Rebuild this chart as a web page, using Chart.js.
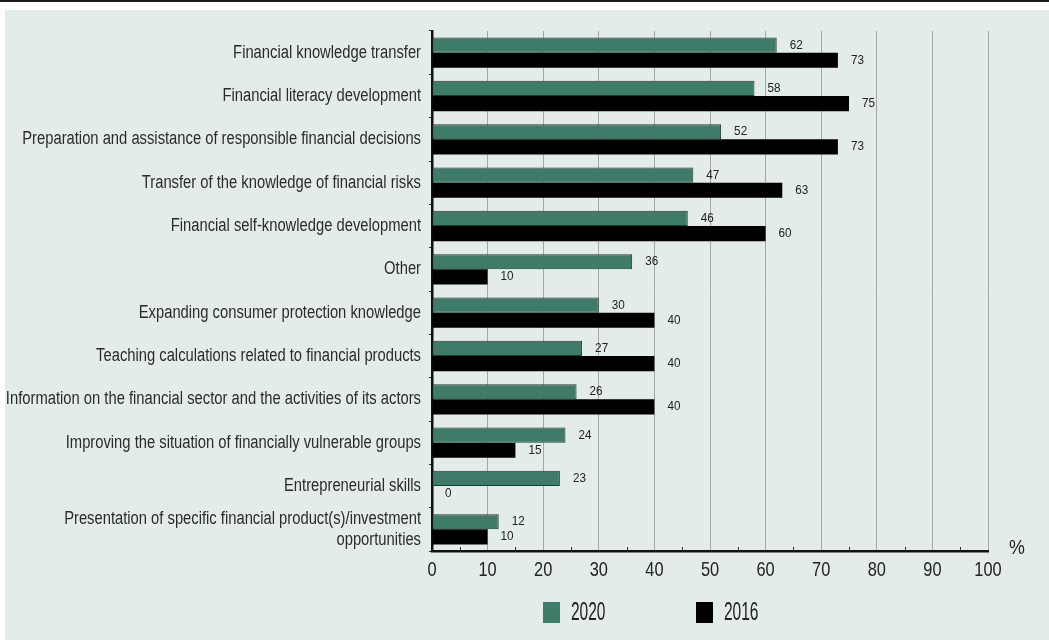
<!DOCTYPE html>
<html>
<head>
<meta charset="utf-8">
<script src="https://cdn.jsdelivr.net/npm/chart.js@4/dist/chart.umd.min.js"></script>
<style>
  html, body { margin: 0; padding: 0; background: #ffffff; }
  #frame { position: relative; width: 1049px; height: 640px; overflow: hidden; }
  #rule { position: absolute; left: 0; top: 0; width: 1049px; height: 2px; background: #1a1a1a; }
  #panel { position: absolute; left: 5px; top: 10px; right: 0; bottom: 0; background: #e4ece9; }
  #chart { position: absolute; left: 0; top: 0; }
</style>
</head>
<body>
<div id="frame">
  <div id="rule"></div>
  <div id="panel"></div>
  <canvas id="chart" width="1049" height="640"></canvas>
</div>
<script>
// Goals of financial education programmes, share of respondents (%)
const categories = [
  "Financial knowledge transfer",
  "Financial literacy development",
  "Preparation and assistance of responsible financial decisions",
  "Transfer of the knowledge of financial risks",
  "Financial self-knowledge development",
  "Other",
  "Expanding consumer protection knowledge",
  "Teaching calculations related to financial products",
  "Information on the financial sector and the activities of its actors",
  "Improving the situation of financially vulnerable groups",
  "Entrepreneurial skills",
  ["Presentation of specific financial product(s)/investment", "opportunities"]
];
const values2020 = [62, 58, 52, 47, 46, 36, 30, 27, 26, 24, 23, 12];
const values2016 = [73, 75, 73, 63, 60, 10, 40, 40, 40, 15, 0, 10];
const seriesNames = ["2020", "2016"];
const axisMin = 0;
const axisMax = 100;
const axisStep = 10;
const axisUnit = "%";

const FACE = "'Liberation Sans', Arial, sans-serif";
const GREEN = "#3e7b68";
const GREEN_EDGE = "#1f3a30";
const INK = "#222222";

// Draws text squeezed horizontally to get a condensed face
function condensedText(ctx, text, x, y, size, squeeze, align, color) {
  ctx.save();
  ctx.translate(x, y);
  ctx.scale(squeeze, 1);
  ctx.font = size + "px " + FACE;
  ctx.fillStyle = color || INK;
  ctx.textAlign = align;
  ctx.textBaseline = "middle";
  ctx.fillText(text, 0, 0);
  ctx.restore();
}

// Category names beside the bar groups and numbers under the value axis
const axisLabels = {
  id: "axisLabels",
  afterDraw(chart) {
    const ctx = chart.ctx;
    const xs = chart.scales.x;
    const ys = chart.scales.y;
    const area = chart.chartArea;
    chart.data.labels.forEach((label, i) => {
      const lines = Array.isArray(label) ? label : [label];
      const yc = ys.getPixelForTick(i);
      const lh = 21;
      lines.forEach((line, k) => {
        const y = yc + (k - (lines.length - 1) / 2) * lh;
        condensedText(ctx, line, area.left - 11, y, 18, 0.82, "right", "#2b2b2b");
      });
    });
    xs.ticks.forEach((t) => {
      condensedText(ctx, String(t.value), xs.getPixelForValue(t.value), area.bottom + 19, 21, 0.78, "center");
    });
    condensedText(ctx, axisUnit, area.right + 29, area.bottom - 3, 21, 0.85, "center");
  }
};

// Value printed just past the end of each bar
const barValueLabels = {
  id: "barValueLabels",
  afterDatasetsDraw(chart) {
    const ctx = chart.ctx;
    const xs = chart.scales.x;
    chart.data.datasets.forEach((ds, i) => {
      const meta = chart.getDatasetMeta(i);
      meta.data.forEach((bar, j) => {
        const v = ds.data[j];
        condensedText(ctx, String(v), xs.getPixelForValue(v) + 13, bar.y, 13, 0.9, "left");
      });
    });
  }
};

// Short inner ticks at the half steps of the value axis
const halfStepTicks = {
  id: "halfStepTicks",
  afterDraw(chart) {
    const ctx = chart.ctx;
    const xs = chart.scales.x;
    const area = chart.chartArea;
    ctx.save();
    ctx.strokeStyle = "#333333";
    ctx.lineWidth = 1;
    for (let v = axisMin + axisStep / 2; v < axisMax; v += axisStep) {
      const px = Math.round(xs.getPixelForValue(v)) + 0.5;
      ctx.beginPath();
      ctx.moveTo(px, area.bottom);
      ctx.lineTo(px, area.bottom - 4);
      ctx.stroke();
    }
    ctx.restore();
  }
};

// Legend drawn under the plot from the dataset labels and colours
const bottomLegend = {
  id: "bottomLegend",
  afterDraw(chart) {
    const ctx = chart.ctx;
    const starts = [543, 696];
    const top = 602, boxW = 17, boxH = 21;
    chart.data.datasets.forEach((ds, i) => {
      const x0 = starts[i];
      ctx.save();
      ctx.fillStyle = ds.backgroundColor;
      ctx.fillRect(x0, top, boxW, boxH);
      ctx.restore();
      condensedText(ctx, ds.label, x0 + boxW + 11, top + boxH / 2 + 1, 25, 0.62, "left");
    });
  }
};

new Chart(document.getElementById("chart"), {
  type: "bar",
  data: {
    labels: categories,
    datasets: [
      {
        label: seriesNames[0],
        data: values2020,
        backgroundColor: GREEN,
        borderColor: GREEN_EDGE,
        borderWidth: 1,
        borderSkipped: false
      },
      {
        label: seriesNames[1],
        data: values2016,
        backgroundColor: "#000000",
        borderWidth: 0
      }
    ]
  },
  options: {
    indexAxis: "y",
    responsive: false,
    animation: false,
    devicePixelRatio: 1,
    datasets: {
      bar: { barPercentage: 1.0, categoryPercentage: 0.70 }
    },
    layout: {
      padding: { left: 0, right: 61, top: 31, bottom: 48 }
    },
    plugins: {
      legend: { display: false },
      tooltip: { enabled: false },
      title: { display: false }
    },
    scales: {
      x: {
        type: "linear",
        position: "bottom",
        min: axisMin,
        max: axisMax,
        afterFit(scale) { scale.height = 41; },
        ticks: { stepSize: axisStep, display: false },
        grid: {
          color: "#a6a6a6",
          lineWidth: 1,
          drawTicks: false
        },
        border: { display: true, color: "#111111", width: 2.5 }
      },
      y: {
        type: "category",
        position: "left",
        afterFit(scale) { scale.width = 432; },
        ticks: { autoSkip: false, display: false },
        grid: {
          drawOnChartArea: false,
          drawTicks: true,
          tickLength: 3,
          color: "#333333"
        },
        border: { display: true, color: "#111111", width: 2.5 }
      }
    }
  },
  plugins: [barValueLabels, halfStepTicks, axisLabels, bottomLegend]
});
</script>
</body>
</html>
